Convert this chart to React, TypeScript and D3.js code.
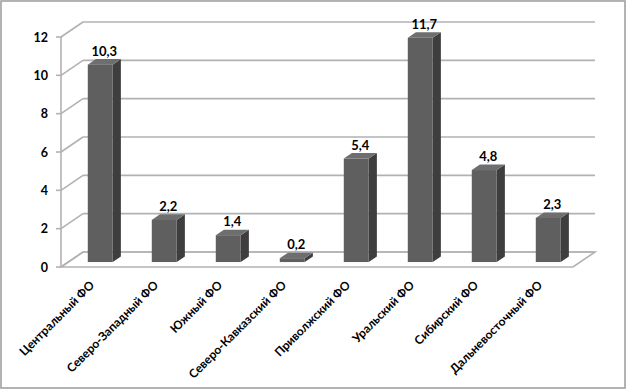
import { useEffect, useRef } from 'react'
import * as d3 from 'd3'

const districts = [
  'Центральный ФО',
  'Северо-Западный ФО',
  'Южный ФО',
  'Северо-Кавказский ФО',
  'Приволжский ФО',
  'Уральский ФО',
  'Сибирский ФО',
  'Дальневосточный ФО',
]
const values = [10.3, 2.2, 1.4, 0.2, 5.4, 11.7, 4.8, 2.3]
const yTicks = [0, 2, 4, 6, 8, 10, 12]

const W = 627
const H = 390
const FONT = 'Lato, "Open Sans", sans-serif'

export default function App() {
  const svgRef = useRef<SVGSVGElement>(null)

  useEffect(() => {
    const svg = d3.select(svgRef.current)
    svg.selectAll('*').remove()

    // front plane of the floor / axes
    const x0 = 61
    const x1 = 573
    // depth offset of the back wall
    const depthX = 22
    const depthY = -15
    // bars sit between these depth fractions
    const dFront = 0.33
    const dBack = 0.7

    const x = d3.scaleBand<string>()
      .domain(districts)
      .range([x0, x1])
      .paddingInner(0.61)
      .paddingOuter(0.305)

    const y = d3.scaleLinear().domain([0, 12]).range([267, 37])

    // outer frame
    svg.append('rect')
      .attr('x', 1).attr('y', 1)
      .attr('width', W - 3).attr('height', H - 3)
      .attr('fill', '#fff')
      .attr('stroke', '#a0a0a0')
      .attr('stroke-width', 1.6)

    const grid = '#b2b2b2'

    // floor
    svg.append('path')
      .attr('d', `M${x0},${y(0)} L${x1},${y(0)} L${x1 + depthX},${y(0) + depthY} L${x0 + depthX},${y(0) + depthY} Z`)
      .attr('fill', '#fff')
      .attr('stroke', grid)
      .attr('stroke-width', 1.6)

    // back wall grid lines + side diagonals
    yTicks.forEach(t => {
      const yy = y(t)
      svg.append('line')
        .attr('x1', x0 + depthX).attr('x2', x1 + depthX)
        .attr('y1', yy + depthY).attr('y2', yy + depthY)
        .attr('stroke', grid).attr('stroke-width', 1.6)
      svg.append('line')
        .attr('x1', x0).attr('x2', x0 + depthX)
        .attr('y1', yy).attr('y2', yy + depthY)
        .attr('stroke', grid).attr('stroke-width', 1.6)
      svg.append('line')
        .attr('x1', x0 - 5).attr('x2', x0)
        .attr('y1', yy).attr('y2', yy)
        .attr('stroke', grid).attr('stroke-width', 1.6)
      svg.append('text')
        .attr('x', 48)
        .attr('y', yy + 4.5)
        .attr('text-anchor', 'end')
        .attr('font-family', FONT)
        .attr('font-weight', 700)
        .attr('font-size', 12.5)
        .attr('fill', '#000')
        .text(t)
    })

    // front y axis line
    svg.append('line')
      .attr('x1', x0).attr('x2', x0)
      .attr('y1', y(12)).attr('y2', y(0))
      .attr('stroke', grid).attr('stroke-width', 1.6)

    // bars
    const bw = x.bandwidth()
    const fdx = depthX * dFront
    const fdy = depthY * dFront
    const bdx = depthX * (dBack - dFront)
    const bdy = depthY * (dBack - dFront)

    districts.forEach((name, i) => {
      const v = values[i]
      const bx = (x(name) as number) + fdx
      const base = y(0) + fdy
      const top = y(v) + fdy
      const g = svg.append('g')

      // side face
      g.append('path')
        .attr('d', `M${bx + bw},${top} L${bx + bw + bdx},${top + bdy} L${bx + bw + bdx},${base + bdy} L${bx + bw},${base} Z`)
        .attr('fill', '#3e3e3e')
      // top face
      g.append('path')
        .attr('d', `M${bx},${top} L${bx + bdx},${top + bdy} L${bx + bw + bdx},${top + bdy} L${bx + bw},${top} Z`)
        .attr('fill', '#6e6e6e')
      // front face
      g.append('rect')
        .attr('x', bx).attr('y', top)
        .attr('width', bw).attr('height', base - top)
        .attr('fill', '#5f5f5f')

      g.append('text')
        .attr('x', bx + bw / 2 + 4)
        .attr('y', top - 9)
        .attr('text-anchor', 'middle')
        .attr('font-family', FONT)
        .attr('font-weight', 700)
        .attr('font-size', 13)
        .attr('fill', '#000')
        .text(String(v).replace('.', ','))
    })

    // category labels
    districts.forEach(name => {
      const cx = (x(name) as number) + bw / 2 + 2
      const cy = 286
      svg.append('text')
        .attr('transform', `translate(${cx},${cy}) rotate(-45)`)
        .attr('text-anchor', 'end')
        .attr('font-family', FONT)
        .attr('font-weight', 700)
        .attr('font-size', 12)
        .attr('fill', '#000')
        .text(name)
    })
  }, [])

  return (
    <div style={{ position: 'absolute', left: 0, top: 0 }}>
      <svg ref={svgRef} width={W} height={H} style={{ display: 'block' }} />
    </div>
  )
}
